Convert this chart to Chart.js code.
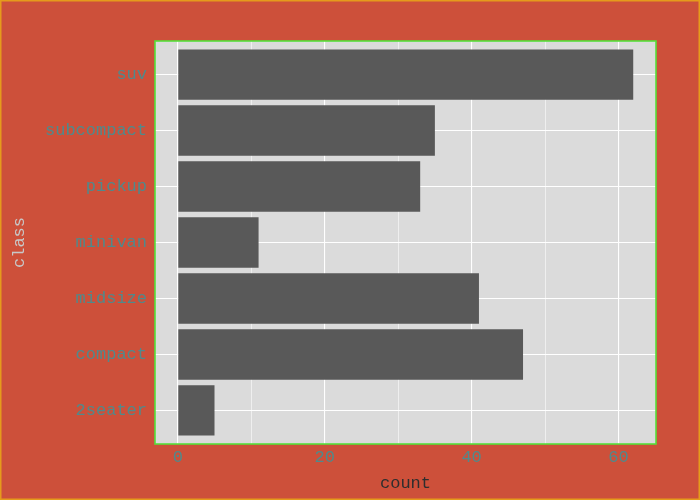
<!DOCTYPE html>
<html>
<head>
<meta charset="utf-8">
<script src="https://cdn.jsdelivr.net/npm/chart.js@4"></script>
<style>
html,body{margin:0;padding:0;background:#cd503a;}
#wrap{width:700px;height:500px;position:relative;}
</style>
</head>
<body>
<div id="wrap"><canvas id="c" width="700" height="500"></canvas></div>
<script>
const categories = ["2seater","compact","midsize","minivan","pickup","subcompact","suv"];
const counts = [5, 47, 41, 11, 33, 35, 62];
const xTicks = [0, 20, 40, 60];
const xMinorTicks = [10, 30, 50];

const MONO = "'Liberation Mono', 'DejaVu Sans Mono', monospace";

const bgPlugin = {
  id: 'bg',
  beforeDraw(chart) {
    const ctx = chart.ctx, a = chart.chartArea;
    ctx.save();
    ctx.fillStyle = '#cd503a';
    ctx.fillRect(0, 0, chart.width, chart.height);
    ctx.fillStyle = '#dbdbdb';
    ctx.fillRect(a.left, a.top, a.right - a.left, a.bottom - a.top);
    ctx.restore();
  },
  afterDraw(chart) {
    const ctx = chart.ctx, a = chart.chartArea;
    ctx.save();
    ctx.strokeStyle = '#55e03a';
    ctx.lineWidth = 1.6;
    ctx.strokeRect(a.left, a.top, a.right - a.left, a.bottom - a.top);
    ctx.strokeStyle = '#e59a1c';
    ctx.lineWidth = 1.5;
    ctx.strokeRect(0.75, 0.75, chart.width - 1.5, chart.height - 1.5);
    ctx.restore();
  }
};

new Chart(document.getElementById('c'), {
  type: 'bar',
  data: {
    datasets: [{
      data: categories.map((c, i) => ({ x: counts[i], y: i })),
      backgroundColor: '#595959',
      borderWidth: 0,
      barPercentage: 0.9,
      categoryPercentage: 1.0
    }]
  },
  plugins: [bgPlugin],
  options: {
    indexAxis: 'y',
    responsive: false,
    animation: false,
    events: [],
    layout: { padding: { top: 41, right: 44, left: 0, bottom: 0 } },
    plugins: { legend: { display: false }, tooltip: { enabled: false } },
    scales: {
      x: {
        type: 'linear',
        min: -3.1,
        max: 65.1,
        offset: false,
        afterBuildTicks(s) {
          s.ticks = [...xTicks, ...xMinorTicks].sort((a, b) => a - b).map(v => ({ value: v }));
        },
        afterFit(s) { s.height = 56; },
        border: { display: false },
        grid: {
          offset: false,
          drawTicks: false,
          color: '#ffffff',
          lineWidth: ctx => (xTicks.includes(ctx.tick && ctx.tick.value) ? 1.1 : 0.55)
        },
        ticks: {
          autoSkip: false,
          maxRotation: 0,
          padding: 3,
          color: '#4f8a8c',
          font: { family: MONO, size: 17 },
          callback: v => (xTicks.includes(v) ? String(v) : '')
        },
        title: {
          display: true,
          text: 'count',
          color: '#2e2e2e',
          font: { family: MONO, size: 17 },
          padding: { top: 0, bottom: 6 }
        }
      },
      y: {
        type: 'linear',
        min: -0.6,
        max: 6.6,
        offset: false,
        afterBuildTicks(s) {
          s.ticks = categories.map((c, i) => ({ value: i }));
        },
        afterFit(s) { s.width = 155; },
        border: { display: false },
        grid: { offset: false, drawTicks: false, color: '#ffffff', lineWidth: 1.1 },
        ticks: {
          autoSkip: false,
          padding: 8,
          color: '#4f8a8c',
          font: { family: MONO, size: 17 },
          callback: v => categories[v] !== undefined ? categories[v] : ''
        },
        title: {
          display: true,
          text: 'class',
          color: '#c8c8c8',
          font: { family: MONO, size: 17 },
          padding: { top: 9, bottom: 0 }
        }
      }
    }
  }
});
</script>
</body>
</html>
